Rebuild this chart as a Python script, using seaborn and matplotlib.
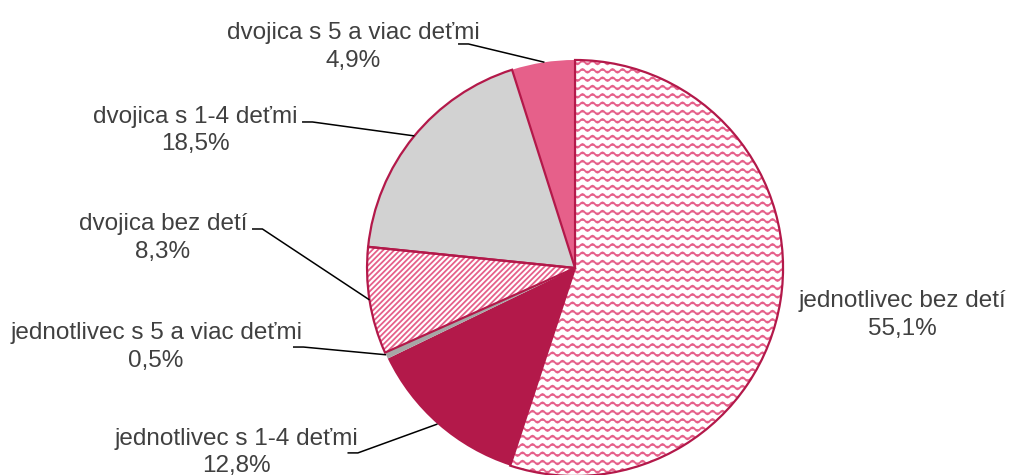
import numpy as np
import matplotlib
matplotlib.use("Agg")
import matplotlib.pyplot as plt
from matplotlib import hatch as mhatch
from matplotlib.path import Path
import seaborn as sns

# data (clockwise from 12 o'clock)
categories = [
    "jednotlivec bez detí",
    "jednotlivec s 1-4 deťmi",
    "jednotlivec s 5 a viac deťmi",
    "dvojica bez detí",
    "dvojica s 1-4 deťmi",
    "dvojica s 5 a viac deťmi",
]
shares = [55.1, 12.8, 0.5, 8.3, 18.5, 4.9]
share_labels = ["55,1%", "12,8%", "0,5%", "8,3%", "18,5%", "4,9%"]

# styling per slice
crimson = "#B3194A"
pink = "#E6608A"
face_colors = ["white", crimson, "#A6A6A6", "white", "#D2D2D2", pink]
hatch_colors = [pink, crimson, "#A6A6A6", pink, "#D2D2D2", pink]
hatches = ["*", None, None, "//////", None, None]
outline = [True, False, False, True, True, False]

# label block centres and leader starts, in units of the pie radius
label_pos = [(1.572, -0.226), (-1.630, -0.885), (-2.014, -0.380),
             (-1.981, 0.144), (-1.827, 0.663), (-1.067, 1.0625)]
leader_start = [None, (-1.094, -0.889), (-1.356, -0.380),
                (-1.553, 0.1875), (-1.3125, 0.702), (-0.5625, 1.077)]


# wavy hatch (replaces the '*' star pattern)
class WaveHatch(mhatch.HatchPatternBase):
    def __init__(self, hatch, density):
        self.num_rows = 12 if "*" in hatch else 0
        self.num_periods = 10
        self.pts = 8 * self.num_periods + 1
        self.num_lines = self.num_rows
        self.num_vertices = self.num_rows * self.pts

    def set_vertices_and_codes(self, vertices, codes):
        t = np.linspace(0, 1, self.pts)
        for i in range(self.num_rows):
            y0 = (i + 0.5) / self.num_rows
            sl = slice(i * self.pts, (i + 1) * self.pts)
            vertices[sl, 0] = t
            vertices[sl, 1] = y0 + 0.018 * np.sin(2 * np.pi * self.num_periods * t)
            codes[sl] = Path.LINETO
            codes[i * self.pts] = Path.MOVETO


mhatch._hatch_types = [h for h in mhatch._hatch_types if h is not mhatch.Stars] + [WaveHatch]

sns.set_style("white")
plt.rcParams["font.family"] = ["Liberation Sans", "DejaVu Sans"]
plt.rcParams["hatch.linewidth"] = 1.3

fig = plt.figure(figsize=(10.1, 4.75), dpi=100)
ax = fig.add_axes([0.3634, -0.0021, 0.4119, 0.8758])
ax.set_aspect("equal")
ax.axis("off")

palette = sns.color_palette(face_colors)

# fill layer (hatch colour comes from edgecolor)
wedges, _ = ax.pie(shares, colors=palette, startangle=90, counterclock=False,
                   radius=1, frame=False, wedgeprops=dict(linewidth=0))
for w, h, hc in zip(wedges, hatches, hatch_colors):
    w.set_edgecolor(hc)
    w.set_linewidth(0)
    if h:
        w.set_hatch(h)

# outline layer
edges, _ = ax.pie(shares, colors=["none"] * len(shares), startangle=90,
                  counterclock=False, radius=1, frame=False,
                  wedgeprops=dict(linewidth=1.6, fill=False))
for e, o in zip(edges, outline):
    e.set_edgecolor(crimson if o else "none")

ax.set_xlim(-1, 1)
ax.set_ylim(-1, 1)

# labels and leader lines
cum = np.cumsum([0] + shares[:-1])
for i, (cat, lab) in enumerate(zip(categories, share_labels)):
    lx, ly = label_pos[i]
    ax.text(lx, ly, f"{cat}\n{lab}", ha="center", va="center", fontsize=17.5,
            color="#404040", linespacing=1.3, clip_on=False)
    if leader_start[i] is not None:
        mid = np.deg2rad(90 - 3.6 * (cum[i] + shares[i] / 2))
        ex, ey = np.cos(mid), np.sin(mid)
        sx, sy = leader_start[i]
        ax.plot([sx, sx + 0.05, ex], [sy, sy, ey], color="black", lw=1.1,
                clip_on=False, solid_capstyle="butt")

fig.savefig("out.png", dpi=100)
